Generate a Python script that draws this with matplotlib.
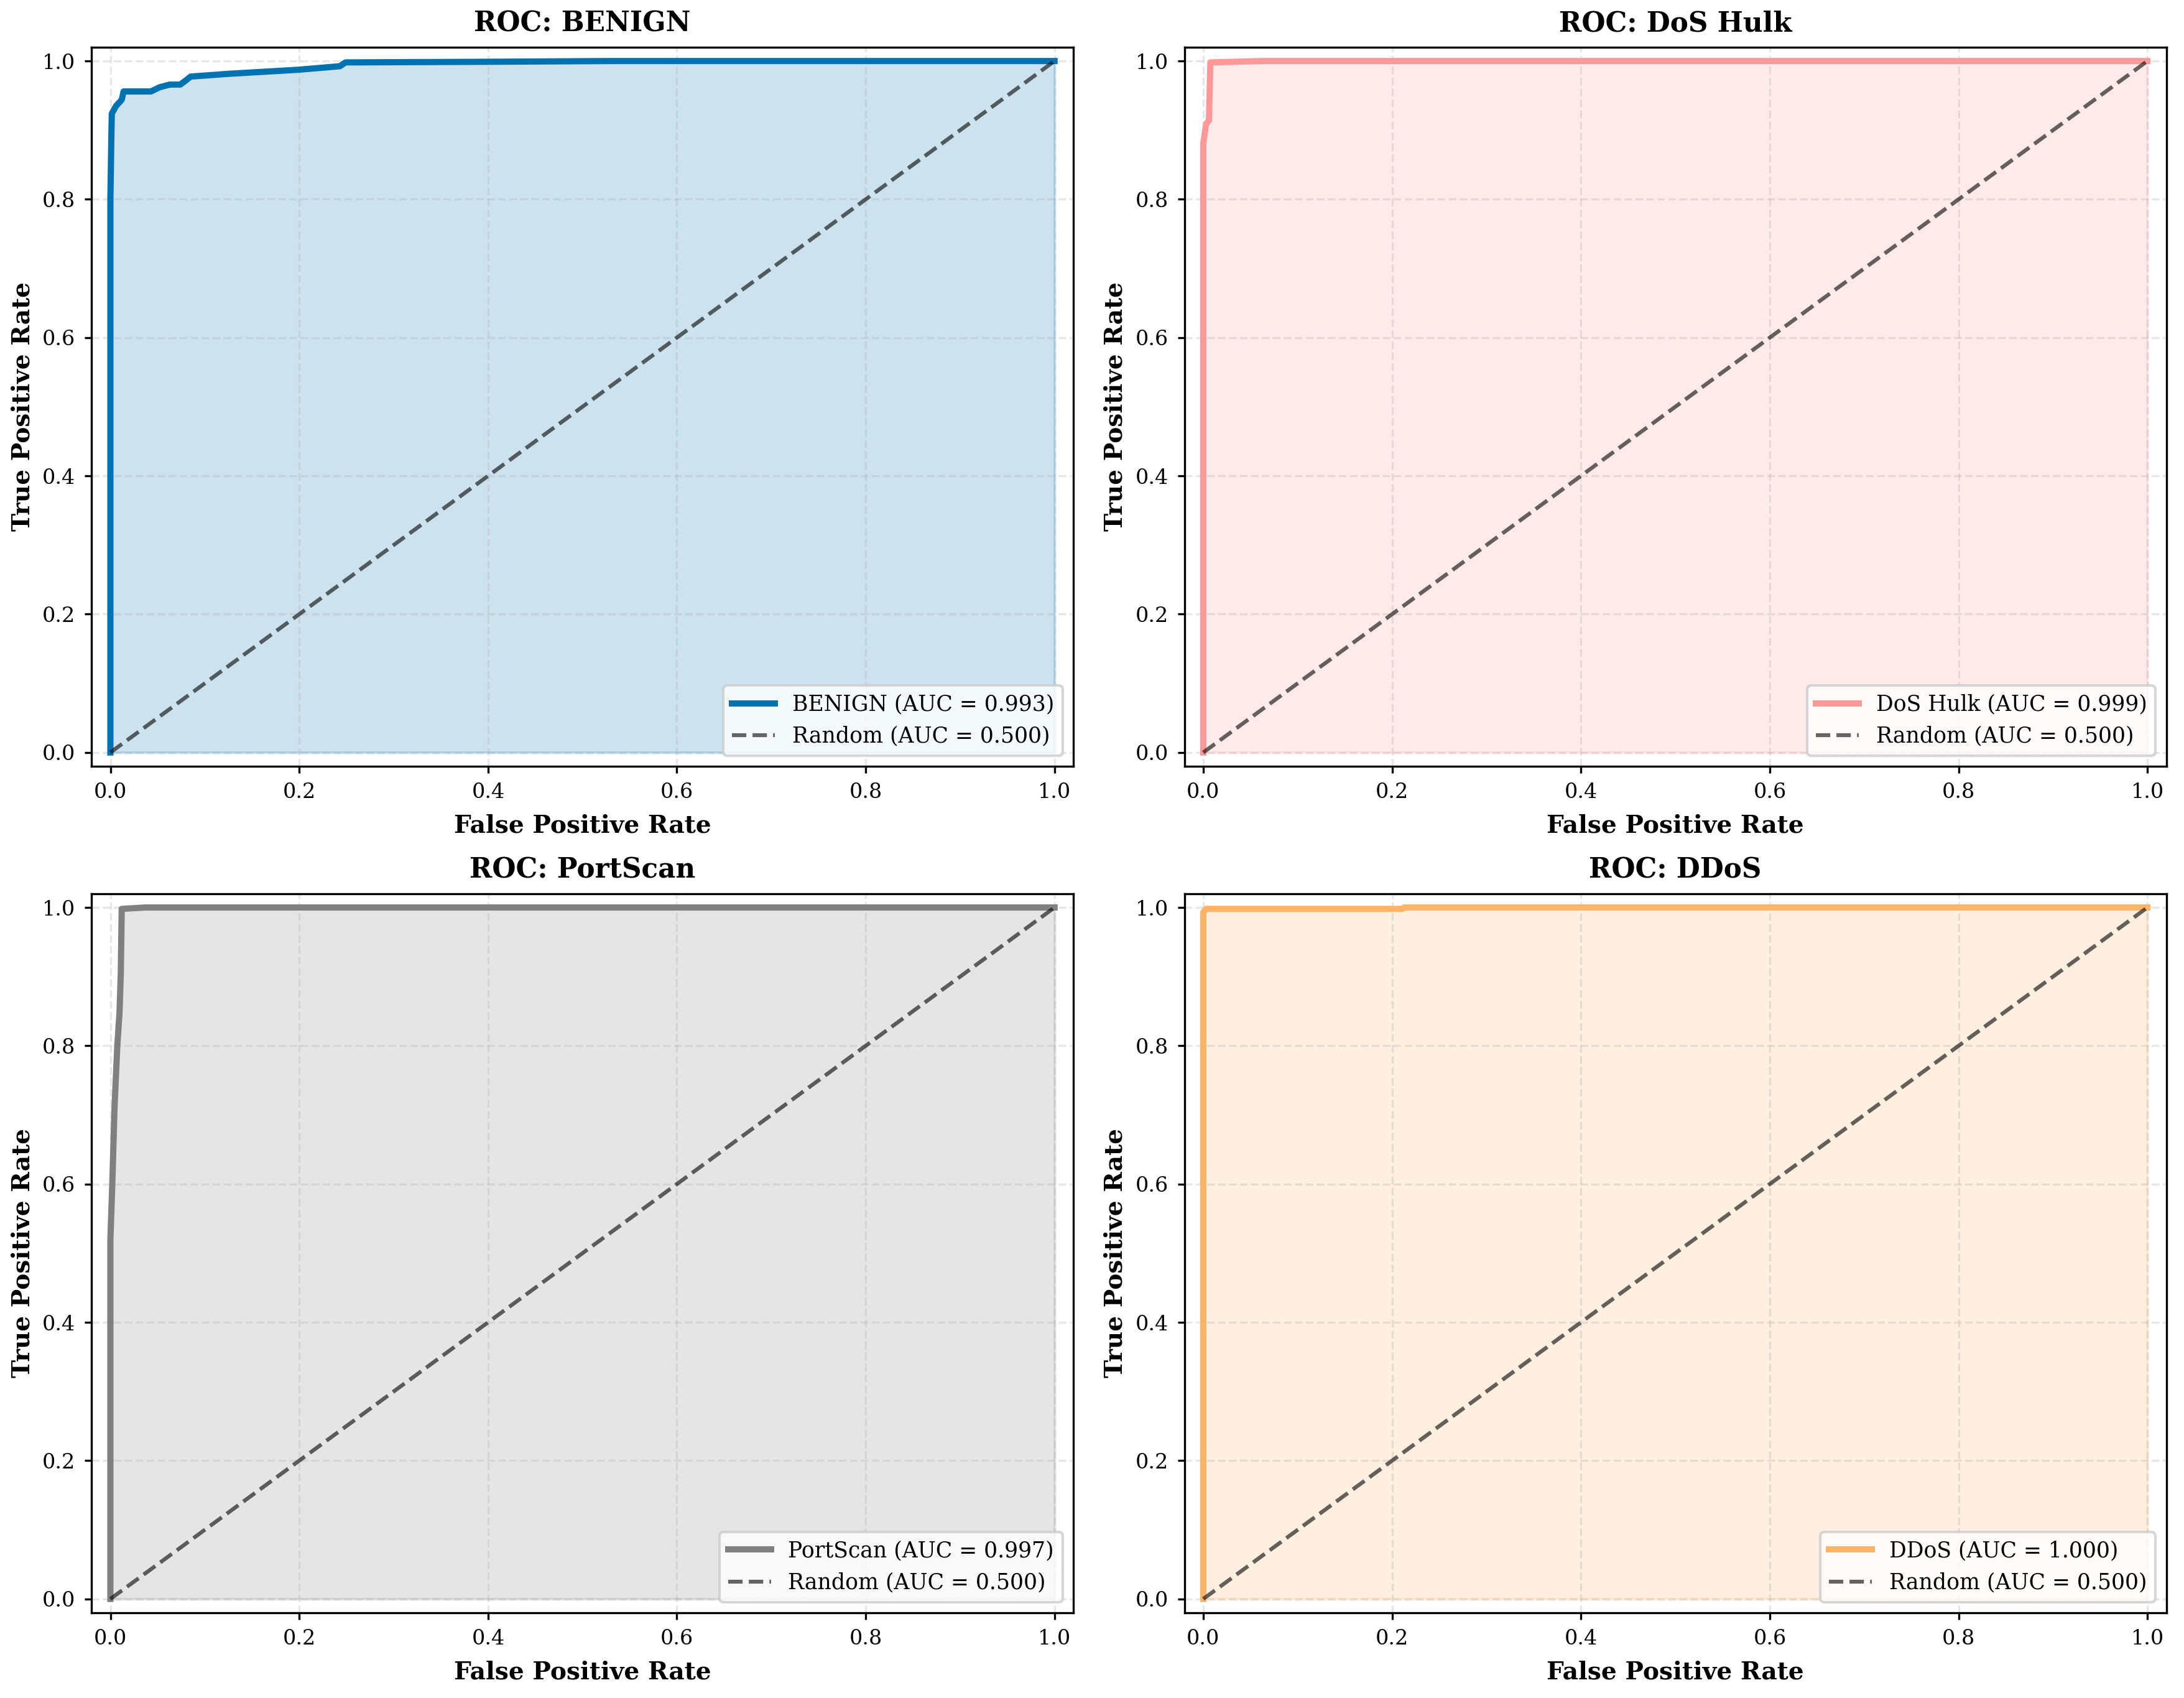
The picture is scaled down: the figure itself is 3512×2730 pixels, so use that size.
import matplotlib
matplotlib.use("Agg")
import matplotlib.pyplot as plt

plt.rcParams['font.family'] = ['DejaVu Serif']

# ROC points (FPR, TPR)
benign_fpr = [0.0, 0.0, 0.001, 0.0015, 0.006, 0.012, 0.014, 0.043, 0.052, 0.063, 0.074,
              0.079, 0.085, 0.125, 0.199, 0.243, 0.249, 0.331, 0.41, 0.53, 1.0]
benign_tpr = [0.0, 0.80, 0.89, 0.924, 0.935, 0.944, 0.956, 0.956, 0.962, 0.966, 0.966,
              0.971, 0.9775, 0.9815, 0.9874, 0.9925, 0.998, 0.9985, 0.999, 1.0, 1.0]

dos_fpr = [0.0, 0.0, 0.003, 0.006, 0.0075, 0.062, 1.0]
dos_tpr = [0.0, 0.881, 0.909, 0.914, 0.998, 1.0, 1.0]

portscan_fpr = [0.0, 0.0, 0.002, 0.0044, 0.0074, 0.0096, 0.011, 0.012, 0.037, 1.0]
portscan_tpr = [0.0, 0.52, 0.60, 0.712, 0.802, 0.846, 0.904, 0.998, 1.0, 1.0]

ddos_fpr = [0.0, 0.0, 0.003, 0.211, 0.213, 1.0]
ddos_tpr = [0.0, 0.993, 0.998, 0.998, 1.0, 1.0]

classes = ['BENIGN', 'DoS Hulk', 'PortScan', 'DDoS']
auc_values = [0.993, 0.999, 0.997, 1.000]
colors = ['#0072B2', '#FF9999', '#808080', '#FFB366']
curves = [(benign_fpr, benign_tpr), (dos_fpr, dos_tpr),
          (portscan_fpr, portscan_tpr), (ddos_fpr, ddos_tpr)]

fig = plt.figure(figsize=(3512 / 300, 2730 / 300), dpi=300)
positions = [
    [0.0419, 0.5487, 0.4496, 0.4235],
    [0.5423, 0.5487, 0.4496, 0.4235],
    [0.0419, 0.0502, 0.4496, 0.4235],
    [0.5423, 0.0502, 0.4496, 0.4235],
]

for i, name in enumerate(classes):
    ax = fig.add_axes(positions[i])
    fpr, tpr = curves[i]
    ax.plot(fpr, tpr, color=colors[i], lw=2.4,
            label=f'{name} (AUC = {auc_values[i]:.3f})')
    ax.fill_between(fpr, tpr, alpha=0.2, color=colors[i])
    ax.plot([0, 1], [0, 1], 'k--', lw=1.5, alpha=0.6, label='Random (AUC = 0.500)')
    ax.set_xlim([-0.02, 1.02])
    ax.set_ylim([-0.02, 1.02])
    ax.set_xticks([0.0, 0.2, 0.4, 0.6, 0.8, 1.0])
    ax.set_yticks([0.0, 0.2, 0.4, 0.6, 0.8, 1.0])
    ax.tick_params(labelsize=8, length=2.7)
    ax.set_xlabel('False Positive Rate', fontsize=9.4, fontweight='bold', labelpad=4.5)
    ax.set_ylabel('True Positive Rate', fontsize=9.4, fontweight='bold', labelpad=3)
    ax.set_title(f'ROC: {name}', fontsize=10.5, fontweight='bold')
    ax.legend(loc='lower right', fontsize=8.3)
    ax.grid(True, linestyle='--', alpha=0.3)

plt.savefig('out.png', dpi=300)
